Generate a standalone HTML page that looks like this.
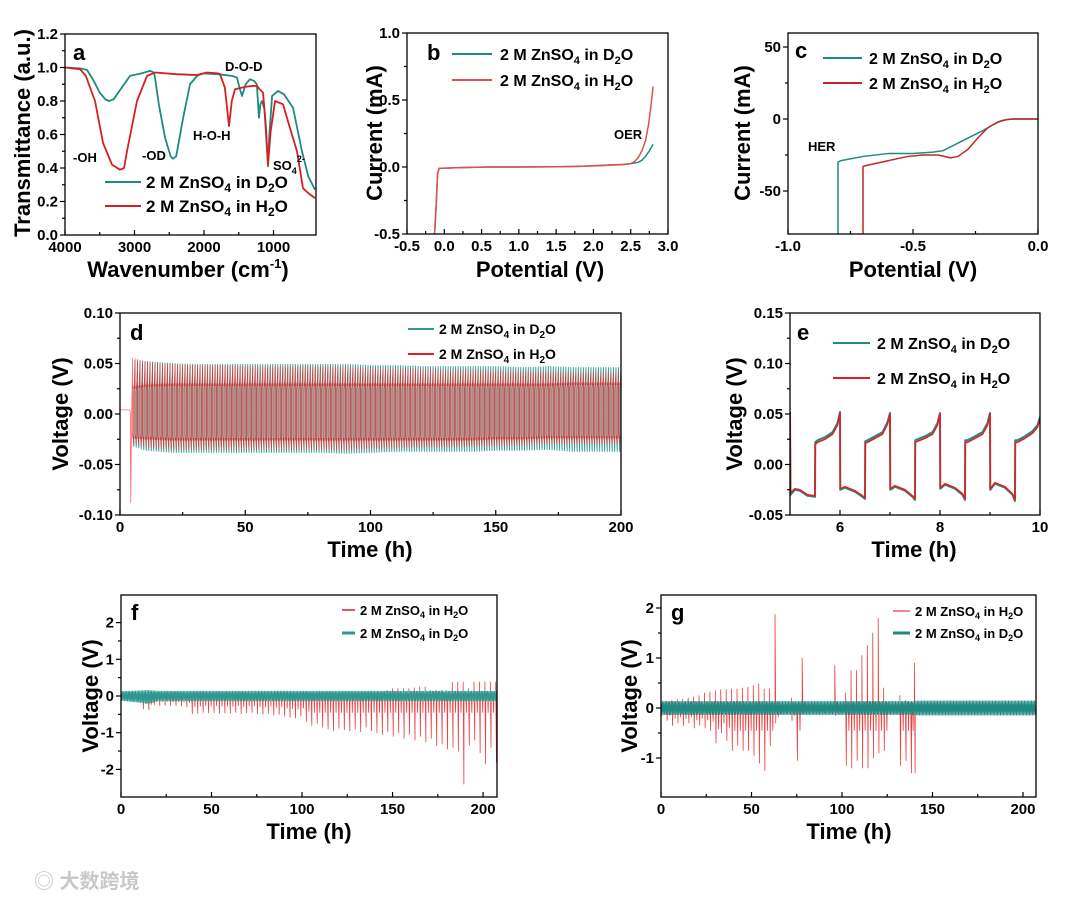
<!DOCTYPE html>
<html><head><meta charset="utf-8">
<style>
html,body{margin:0;padding:0;background:#fff;}
svg{display:block;font-family:"Liberation Sans","Noto Sans CJK SC",sans-serif;font-weight:bold;}
.tl{font-size:15px;fill:#000;}
.at{font-size:22px;fill:#000;}
.lg{font-size:16px;fill:#000;}
.lga{font-size:17px;fill:#000;}
.lgs{font-size:14px;fill:#000;}
.pl{font-size:22px;fill:#000;}
.an{font-size:13px;fill:#000;}
</style></head>
<body>
<svg id="fig" width="1080" height="900" viewBox="0 0 1080 900">
<rect x="0" y="0" width="1080" height="900" fill="#fff"/>
<defs>
<clipPath id="cA"><rect x="65" y="33" width="251" height="201"/></clipPath>
<clipPath id="cB"><rect x="407" y="33" width="261" height="201"/></clipPath>
<clipPath id="cC"><rect x="788" y="33" width="250" height="201"/></clipPath>
<clipPath id="cD"><rect x="120" y="313" width="501" height="202"/></clipPath>
<clipPath id="cE"><rect x="790" y="313" width="250" height="202"/></clipPath>
<clipPath id="cF"><rect x="121" y="595" width="376" height="202"/></clipPath>
<clipPath id="cG"><rect x="661" y="595" width="375" height="202"/></clipPath>
</defs>
<g id="layer-data"></g>
<g id="layer-axes"></g>

<!-- Panel a -->
<text class="pl" x="73" y="60">a</text>
<text class="an" x="225" y="71">D-O-D</text>
<text class="an" x="193" y="140">H-O-H</text>
<text class="an" x="142" y="160">-OD</text>
<text class="an" x="73" y="162">-OH</text>
<text class="an" x="273" y="170">SO<tspan font-size="9" dy="4">4</tspan><tspan font-size="9" dy="-12">2-</tspan></text>
<line x1="105" y1="182" x2="141" y2="182" stroke="#1f8a82" stroke-width="2"/>
<text class="lga" x="146" y="188">2 M ZnSO<tspan font-size="12" dy="4">4</tspan><tspan dy="-4"> in D</tspan><tspan font-size="12" dy="4">2</tspan><tspan dy="-4">O</tspan></text>
<line x1="105" y1="206" x2="141" y2="206" stroke="#d42020" stroke-width="2"/>
<text class="lga" x="146" y="212">2 M ZnSO<tspan font-size="12" dy="4">4</tspan><tspan dy="-4"> in H</tspan><tspan font-size="12" dy="4">2</tspan><tspan dy="-4">O</tspan></text>
<text class="at" transform="translate(30,133) rotate(-90)" text-anchor="middle">Transmittance (a.u.)</text>
<text class="at" x="188" y="277" text-anchor="middle">Wavenumber (cm<tspan font-size="13" dy="-9">-1</tspan><tspan dy="9">)</tspan></text>

<!-- Panel b -->
<text class="pl" x="427" y="60">b</text>
<text class="an" x="614" y="139">OER</text>
<line x1="452" y1="54" x2="492" y2="54" stroke="#1f8a82" stroke-width="2"/>
<text class="lg" x="500" y="60">2 M ZnSO<tspan font-size="11" dy="4">4</tspan><tspan dy="-4"> in D</tspan><tspan font-size="11" dy="4">2</tspan><tspan dy="-4">O</tspan></text>
<line x1="452" y1="80" x2="492" y2="80" stroke="#e05050" stroke-width="2"/>
<text class="lg" x="500" y="86">2 M ZnSO<tspan font-size="11" dy="4">4</tspan><tspan dy="-4"> in H</tspan><tspan font-size="11" dy="4">2</tspan><tspan dy="-4">O</tspan></text>
<text class="at" transform="translate(382,133) rotate(-90)" text-anchor="middle">Current (mA)</text>
<text class="at" x="540" y="277" text-anchor="middle">Potential (V)</text>

<!-- Panel c -->
<text class="pl" x="795" y="58">c</text>
<text class="an" x="808" y="151">HER</text>
<line x1="823" y1="58" x2="862" y2="58" stroke="#1f8a82" stroke-width="2"/>
<text class="lg" x="869" y="64">2 M ZnSO<tspan font-size="11" dy="4">4</tspan><tspan dy="-4"> in D</tspan><tspan font-size="11" dy="4">2</tspan><tspan dy="-4">O</tspan></text>
<line x1="823" y1="83" x2="862" y2="83" stroke="#c02828" stroke-width="2"/>
<text class="lg" x="869" y="89">2 M ZnSO<tspan font-size="11" dy="4">4</tspan><tspan dy="-4"> in H</tspan><tspan font-size="11" dy="4">2</tspan><tspan dy="-4">O</tspan></text>
<text class="at" transform="translate(750,133) rotate(-90)" text-anchor="middle">Current (mA)</text>
<text class="at" x="913" y="277" text-anchor="middle">Potential (V)</text>

<!-- Panel d -->
<text class="pl" x="130" y="340">d</text>
<line x1="408" y1="329" x2="434" y2="329" stroke="#2a9a92" stroke-width="2"/>
<text class="lgs" x="439" y="334">2 M ZnSO<tspan font-size="10" dy="4">4</tspan><tspan dy="-4"> in D</tspan><tspan font-size="10" dy="4">2</tspan><tspan dy="-4">O</tspan></text>
<line x1="408" y1="354" x2="434" y2="354" stroke="#e02020" stroke-width="2"/>
<text class="lgs" x="439" y="359">2 M ZnSO<tspan font-size="10" dy="4">4</tspan><tspan dy="-4"> in H</tspan><tspan font-size="10" dy="4">2</tspan><tspan dy="-4">O</tspan></text>
<text class="at" transform="translate(68,414) rotate(-90)" text-anchor="middle">Voltage (V)</text>
<text class="at" x="370" y="557" text-anchor="middle">Time (h)</text>

<!-- Panel e -->
<text class="pl" x="797" y="340">e</text>
<line x1="833" y1="343" x2="870" y2="343" stroke="#1f8a82" stroke-width="2"/>
<text class="lg" x="877" y="349">2 M ZnSO<tspan font-size="11" dy="4">4</tspan><tspan dy="-4"> in D</tspan><tspan font-size="11" dy="4">2</tspan><tspan dy="-4">O</tspan></text>
<line x1="833" y1="378" x2="870" y2="378" stroke="#e02020" stroke-width="2"/>
<text class="lg" x="877" y="384">2 M ZnSO<tspan font-size="11" dy="4">4</tspan><tspan dy="-4"> in H</tspan><tspan font-size="11" dy="4">2</tspan><tspan dy="-4">O</tspan></text>
<text class="at" transform="translate(742,414) rotate(-90)" text-anchor="middle">Voltage (V)</text>
<text class="at" x="914" y="557" text-anchor="middle">Time (h)</text>

<!-- Panel f -->
<text class="pl" x="131" y="620">f</text>
<line x1="342" y1="610" x2="355" y2="610" stroke="#e02020" stroke-width="1.5"/>
<text class="an" x="360" y="615">2 M ZnSO<tspan font-size="9" dy="3">4</tspan><tspan dy="-3"> in H</tspan><tspan font-size="9" dy="3">2</tspan><tspan dy="-3">O</tspan></text>
<line x1="342" y1="633" x2="355" y2="633" stroke="#2a9a92" stroke-width="3"/>
<text class="an" x="360" y="638">2 M ZnSO<tspan font-size="9" dy="3">4</tspan><tspan dy="-3"> in D</tspan><tspan font-size="9" dy="3">2</tspan><tspan dy="-3">O</tspan></text>
<text class="at" transform="translate(98,696) rotate(-90)" text-anchor="middle">Voltage (V)</text>
<text class="at" x="309" y="839" text-anchor="middle">Time (h)</text>

<!-- Panel g -->
<text class="pl" x="671" y="620">g</text>
<line x1="893" y1="611" x2="910" y2="611" stroke="#ee6060" stroke-width="1.5"/>
<text class="an" x="915" y="616">2 M ZnSO<tspan font-size="9" dy="3">4</tspan><tspan dy="-3"> in H</tspan><tspan font-size="9" dy="3">2</tspan><tspan dy="-3">O</tspan></text>
<line x1="893" y1="633" x2="910" y2="633" stroke="#1f8a82" stroke-width="3"/>
<text class="an" x="915" y="638">2 M ZnSO<tspan font-size="9" dy="3">4</tspan><tspan dy="-3"> in D</tspan><tspan font-size="9" dy="3">2</tspan><tspan dy="-3">O</tspan></text>
<text class="at" transform="translate(637,696) rotate(-90)" text-anchor="middle">Voltage (V)</text>
<text class="at" x="849" y="839" text-anchor="middle">Time (h)</text>

<text x="34" y="888" font-size="20" fill="#c8c8c8">◎ 大数跨境</text>
</svg>
<script>
// ---------- DATA ----------
// a: FTIR
const aWnTeal = [4000,3780,3683,3600,3500,3420,3367,3300,3200,3065,2900,2777,2720,2705,2650,2560,2480,2446,2400,2300,2201,2100,2014,1800,1600,1525,1490,1453,1400,1338,1280,1240,1209,1190,1165,1130,1100,1079,1060,1020,935,850,719,650,590,500,403];
const aTeal   = [1.0,0.995,0.985,0.93,0.85,0.81,0.80,0.81,0.87,0.95,0.965,0.98,0.97,0.94,0.78,0.58,0.47,0.455,0.47,0.70,0.90,0.95,0.965,0.96,0.95,0.94,0.88,0.83,0.90,0.93,0.92,0.90,0.70,0.78,0.80,0.75,0.55,0.41,0.60,0.83,0.86,0.84,0.76,0.62,0.50,0.35,0.27];
const aWnRed  = [4000,3784,3700,3568,3453,3324,3209,3150,3108,2964,2820,2705,2400,2101,1957,1800,1770,1700,1640,1600,1554,1400,1300,1237,1200,1151,1110,1079,1040,978,863,750,662,576,500,403];
const aRed    = [1.0,0.99,0.95,0.80,0.55,0.42,0.39,0.40,0.50,0.80,0.95,0.97,0.96,0.955,0.97,0.965,0.96,0.88,0.65,0.80,0.87,0.885,0.89,0.89,0.87,0.85,0.65,0.42,0.62,0.80,0.78,0.62,0.50,0.28,0.25,0.22];
// b: LSV
const bVTeal = [-0.13,-0.11,-0.09,-0.07,0.2,0.6,1.0,1.5,1.8,2.1,2.4,2.5,2.6,2.65,2.7,2.75,2.8];
const bITeal = [-0.5,-0.3,-0.05,-0.01,-0.005,0.0,0.0,0.002,0.005,0.012,0.02,0.025,0.035,0.05,0.08,0.12,0.17];
const bVRed  = [-0.13,-0.11,-0.09,-0.07,0.2,0.6,1.0,1.5,1.8,2.1,2.4,2.5,2.55,2.6,2.65,2.7,2.74,2.77,2.8];
const bIRed  = [-0.5,-0.3,-0.05,-0.01,-0.005,0.0,0.0,0.002,0.005,0.01,0.018,0.025,0.04,0.07,0.12,0.2,0.32,0.45,0.6];
// c: HER
const cVTeal = [-0.80,-0.80,-0.79,-0.70,-0.60,-0.50,-0.42,-0.38,-0.30,-0.22,-0.18,-0.15,-0.12,-0.10,0.0];
const cITeal = [-85,-30,-29,-26,-24,-24,-23,-22,-15,-8,-4,-1.5,-0.3,0,0];
const cVRed  = [-0.70,-0.70,-0.68,-0.60,-0.52,-0.46,-0.40,-0.35,-0.32,-0.28,-0.24,-0.20,-0.16,-0.13,-0.10,0.0];
const cIRed  = [-85,-33,-32,-29,-26,-25,-25,-27,-26,-21,-13,-6,-2,-0.5,0,0];
// d: long-term cycling envelopes
const dTimes   = [5,10,20,30,40,50,60,70,80,90,100,110,120,130,140,150,160,170,180,190,200];
const dTealMax = [0.053,0.052,0.050,0.049,0.049,0.049,0.049,0.049,0.049,0.049,0.048,0.048,0.047,0.047,0.047,0.047,0.046,0.047,0.046,0.046,0.046];
const dTealMin = [-0.032,-0.036,-0.038,-0.038,-0.038,-0.038,-0.038,-0.038,-0.038,-0.039,-0.038,-0.037,-0.037,-0.037,-0.037,-0.036,-0.036,-0.035,-0.037,-0.037,-0.037];
const dRedMax  = [0.055,0.051,0.049,0.048,0.048,0.047,0.047,0.047,0.047,0.046,0.045,0.045,0.044,0.043,0.043,0.043,0.042,0.042,0.041,0.041,0.041];
const dRedMin  = [-0.030,-0.033,-0.035,-0.035,-0.035,-0.035,-0.035,-0.035,-0.035,-0.036,-0.034,-0.034,-0.033,-0.033,-0.032,-0.032,-0.031,-0.030,-0.030,-0.030,-0.030];
const dPlateauHi = [0.022,0.024,0.025,0.025,0.025,0.025,0.025,0.025,0.025,0.025,0.025,0.025,0.025,0.025,0.025,0.025,0.025,0.025,0.026,0.026,0.026];
const dPlateauLo = [-0.020,-0.021,-0.022,-0.022,-0.022,-0.022,-0.022,-0.022,-0.022,-0.022,-0.022,-0.022,-0.022,-0.022,-0.022,-0.021,-0.021,-0.020,-0.020,-0.020,-0.020];
const dRestT = [0,3.9,4.1,4.3,4.5,5];
const dRestV = [0.004,0.004,0.003,-0.088,-0.03,0.055];
// e: zoomed cycles
const eTime = [5.00,5.01,5.1,5.2,5.35,5.5,5.505,5.55,5.7,5.85,5.95,6.0,6.005,6.1,6.3,6.45,6.5,6.505,6.55,6.7,6.85,6.95,7.0,7.005,7.1,7.3,7.45,7.5,7.505,7.55,7.7,7.85,7.95,8.0,8.005,8.1,8.3,8.45,8.5,8.505,8.55,8.7,8.85,8.95,9.0,9.005,9.1,9.3,9.45,9.5,9.505,9.55,9.7,9.85,9.95,10.0];
const eRed  = [0.050,-0.028,-0.024,-0.025,-0.030,-0.031,0.020,0.022,0.025,0.030,0.039,0.051,-0.024,-0.022,-0.026,-0.031,-0.033,0.021,0.022,0.026,0.030,0.040,0.050,-0.024,-0.021,-0.025,-0.031,-0.034,0.022,0.023,0.026,0.030,0.039,0.050,-0.023,-0.019,-0.023,-0.029,-0.034,0.022,0.022,0.026,0.030,0.039,0.050,-0.024,-0.018,-0.022,-0.029,-0.035,0.022,0.022,0.026,0.031,0.037,0.045];
const eTeal = [0.052,-0.030,-0.025,-0.026,-0.031,-0.032,0.022,0.024,0.027,0.032,0.041,0.052,-0.025,-0.023,-0.027,-0.032,-0.034,0.023,0.024,0.028,0.032,0.042,0.051,-0.025,-0.022,-0.026,-0.032,-0.035,0.024,0.025,0.028,0.032,0.041,0.051,-0.024,-0.020,-0.024,-0.030,-0.035,0.024,0.024,0.028,0.032,0.041,0.051,-0.025,-0.019,-0.023,-0.030,-0.036,0.024,0.024,0.028,0.033,0.039,0.047];
// f
const fTimes  = [0,3,6,9,12,15,18,21,24,27,30,33,36,39,42,45,48,51,54,57,60,63,66,69,72,75,78,81,84,87,90,93,96,99,102,105,108,111,114,117,120,123,126,129,132,135,138,141,144,147,150,153,156,159,162,165,168,171,174,177,180,183,186,189,192,195,198,201,204,207];
const fRedMin = [-0.1,-0.1,-0.12,-0.15,-0.35,-0.38,-0.25,-0.26,-0.25,-0.27,-0.26,-0.28,-0.30,-0.48,-0.47,-0.45,-0.46,-0.45,-0.47,-0.46,-0.47,-0.45,-0.48,-0.46,-0.45,-0.48,-0.50,-0.47,-0.52,-0.50,-0.55,-0.58,-0.60,-0.55,-0.70,-0.80,-0.75,-0.85,-0.90,-0.95,-0.88,-0.92,-0.95,-0.90,-0.97,-0.85,-0.95,-1.00,-1.05,-0.98,-1.10,-1.00,-1.15,-1.05,-1.20,-1.10,-1.25,-1.15,-1.35,-1.30,-1.45,-1.40,-1.50,-2.40,-1.35,-1.20,-1.55,-1.85,-1.40,-1.80];
const fRedMax = [0.1,0.1,0.1,0.1,0.1,0.1,0.1,0.1,0.1,0.1,0.1,0.1,0.1,0.1,0.1,0.1,0.1,0.1,0.1,0.1,0.1,0.1,0.1,0.1,0.1,0.1,0.1,0.1,0.1,0.1,0.1,0.1,0.1,0.1,0.1,0.1,0.1,0.1,0.1,0.1,0.1,0.1,0.1,0.1,0.1,0.1,0.1,0.1,0.12,0.15,0.2,0.2,0.2,0.2,0.22,0.25,0.25,0.15,0.15,0.15,0.15,0.38,0.38,0.38,0.2,0.38,0.38,0.38,0.38,0.38];
const fTealT   = [0,15,20,207];
const fTealMax = [0.12,0.15,0.13,0.13];
const fTealMin = [-0.12,-0.2,-0.13,-0.13];
// g
const gTimes  = [0,3,6,9,12,15,18,21,24,27,30,33,36,39,42,45,48,51,54,57,60,63,66,69,72,75,78,81,84,87,90,93,96,99,102,105,108,111,114,117,120,123,126,129,132,135,138,140];
const gRedMax = [0.1,0.12,0.15,0.17,0.18,0.2,0.22,0.25,0.3,0.32,0.35,0.37,0.37,0.38,0.38,0.40,0.42,0.45,0.48,0.38,0.38,1.87,0.05,0.05,0.2,0.1,1.0,0.05,0.05,0.05,0.05,0.05,0.85,0.05,0.3,0.75,0.75,1.05,1.25,1.5,1.8,0.4,0.05,0.05,0.25,0.15,0.1,0.9];
const gRedMin = [-0.15,-0.25,-0.35,-0.3,-0.35,-0.3,-0.4,-0.35,-0.4,-0.45,-0.7,-0.5,-0.65,-0.85,-0.75,-0.85,-0.85,-0.95,-1.1,-1.25,-0.75,-0.3,-0.1,-0.1,-0.25,-1.05,-0.1,-0.1,-0.1,-0.1,-0.1,-0.1,-0.15,-0.1,-1.15,-1.2,-1.05,-1.2,-1.2,-1.0,-0.9,-0.85,-0.1,-0.1,-1.15,-1.05,-1.3,-1.3];
const gTealT   = [0,140,141,207];
const gTealMax = [0.13,0.13,0.14,0.14];
const gTealMin = [-0.13,-0.13,-0.14,-0.14];
// ticks
const aXTicks=[4000,3000,2000,1000], aXLabels=["4000","3000","2000","1000"];
const aYTicks=[0,0.2,0.4,0.6,0.8,1.0,1.2], aYLabels=["0.0","0.2","0.4","0.6","0.8","1.0","1.2"];
const bXTicks=[-0.5,0,0.5,1,1.5,2,2.5,3], bXLabels=["-0.5","0.0","0.5","1.0","1.5","2.0","2.5","3.0"];
const bYTicks=[-0.5,0,0.5,1], bYLabels=["-0.5","0.0","0.5","1.0"];
const cXTicks=[-1,-0.5,0], cXLabels=["-1.0","-0.5","0.0"];
const cYTicks=[-50,0,50], cYLabels=["-50","0","50"];
const dXTicks=[0,50,100,150,200], dXLabels=["0","50","100","150","200"];
const dYTicks=[-0.1,-0.05,0,0.05,0.1], dYLabels=["-0.10","-0.05","0.00","0.05","0.10"];
const eXTicks=[6,8,10], eXLabels=["6","8","10"];
const eYTicks=[-0.05,0,0.05,0.1,0.15], eYLabels=["-0.05","0.00","0.05","0.10","0.15"];
const fXTicks=[0,50,100,150,200], fXLabels=["0","50","100","150","200"];
const fYTicks=[-2,-1,0,1,2], fYLabels=["-2","-1","0","1","2"];
const gYTicks=[-1,0,1,2], gYLabels=["-1","0","1","2"];

// ---------- DRAW ----------
const NS="http://www.w3.org/2000/svg";
const dataLayer=document.getElementById('layer-data');
const axesLayer=document.getElementById('layer-axes');
function sc(d0,d1,p0,p1){return v=>p0+(v-d0)/(d1-d0)*(p1-p0);}
function interp(ts,vs,t){if(t<=ts[0])return vs[0];for(let i=1;i<ts.length;i++){if(t<=ts[i]){const f=(t-ts[i-1])/(ts[i]-ts[i-1]);return vs[i-1]+f*(vs[i]-vs[i-1]);}}return vs[vs.length-1];}
function poly(pts,color,w,clip,op){
  const p=document.createElementNS(NS,'polyline');
  p.setAttribute('points',pts.map(q=>q[0].toFixed(2)+','+q[1].toFixed(2)).join(' '));
  p.setAttribute('fill','none');p.setAttribute('stroke',color);p.setAttribute('stroke-width',w);
  p.setAttribute('stroke-linejoin','round');
  if(op)p.setAttribute('stroke-opacity',op);
  p.setAttribute('clip-path','url(#'+clip+')');
  dataLayer.appendChild(p);return p;
}
function panel(P){
  const g=document.createElementNS(NS,'g');
  
  
  const r=document.createElementNS(NS,'rect');
  r.setAttribute('x',P.x0);r.setAttribute('y',P.y1);r.setAttribute('width',P.x1-P.x0);r.setAttribute('height',P.y0-P.y1);
  r.setAttribute('fill','none');r.setAttribute('stroke','#000');r.setAttribute('stroke-width','1.3');
  
  
  g.appendChild(r);
  function tick(x1,y1,x2,y2){const l=document.createElementNS(NS,'line');l.setAttribute('x1',x1);l.setAttribute('y1',y1);l.setAttribute('x2',x2);l.setAttribute('y2',y2);l.setAttribute('stroke','#000');l.setAttribute('stroke-width','1.2');g.appendChild(l);}
  function lab(x,y,s,anchor,name){const t=document.createElementNS(NS,'text');t.setAttribute('x',x);t.setAttribute('y',y);t.setAttribute('class','tl');t.setAttribute('text-anchor',anchor);t.textContent=s;
    
    
    g.appendChild(t);}
  P.xt.forEach((v,i)=>{const x=P.sx(v);tick(x,P.y0,x,P.y0-5);lab(x,P.y0+17,P.xl[i],'middle',P.name+'-x-tick-label');});
  P.xt.slice(0,-1).forEach((v,i)=>{const m=P.sx((v+P.xt[i+1])/2);tick(m,P.y0,m,P.y0-3);});
  P.yt.forEach((v,i)=>{const y=P.sy(v);tick(P.x0,y,P.x0-5,y);lab(P.x0-7,y+5,P.yl[i],'end',P.name+'-y-tick-label');});
  P.yt.slice(0,-1).forEach((v,i)=>{const m=P.sy((v+P.yt[i+1])/2);tick(P.x0,m,P.x0-3,m);});
  axesLayer.appendChild(g);
}
// Panel A
{const sx=sc(4000,1000,65,273.5),sy=sc(0,1.2,235,34);
 panel({name:'panel-a',x0:65,x1:316,y0:235,y1:34,sx,sy,xt:aXTicks,xl:aXLabels,yt:aYTicks,yl:aYLabels});
 let p=poly(aWnTeal.map((w,i)=>[sx(w),sy(aTeal[i])]),'#1f8a82',1.8,'cA');
 
 
 p=poly(aWnRed.map((w,i)=>[sx(w),sy(aRed[i])]),'#d42020',1.8,'cA');
 
 }
// Panel B
{const sx=sc(-0.5,3.0,407,668),sy=sc(-0.5,1.0,234,33);
 panel({name:'panel-b',x0:407,x1:668,y0:234,y1:33,sx,sy,xt:bXTicks,xl:bXLabels,yt:bYTicks,yl:bYLabels});
 let p=poly(bVTeal.map((v,i)=>[sx(v),sy(bITeal[i])]),'#1f8a82',1.5,'cB');
 
 
 p=poly(bVRed.map((v,i)=>[sx(v),sy(bIRed[i])]),'#e05050',1.5,'cB');
 
 }
// Panel C
{const sx=sc(-1,0,788,1038),sy=sc(0,50,119,47);
 panel({name:'panel-c',x0:788,x1:1038,y0:234,y1:33,sx,sy,xt:cXTicks,xl:cXLabels,yt:cYTicks,yl:cYLabels});
 let p=poly(cVTeal.map((v,i)=>[sx(v),sy(cITeal[i])]),'#1f8a82',1.5,'cC');
 
 
 p=poly(cVRed.map((v,i)=>[sx(v),sy(cIRed[i])]),'#c02828',1.5,'cC');
 
 }
function cyclePts(sx,sy,t0,t1,maxA,minA,hiA,loA,ts){
  const pts=[];
  for(let t=t0;t<t1;t+=1){
    const mx=interp(ts,maxA,t),mn=interp(ts,minA,t),hi=interp(ts,hiA,t),lo=interp(ts,loA,t);
    pts.push([sx(t),sy(lo)]);pts.push([sx(t+0.3),sy(lo+(mn-lo)*0.35)]);pts.push([sx(t+0.5),sy(mn)]);
    pts.push([sx(t+0.5),sy(hi)]);pts.push([sx(t+0.8),sy(hi+(mx-hi)*0.35)]);pts.push([sx(t+1),sy(mx)]);
  }
  return pts;
}
// Panel D
{const sx=sc(0,200,120,621),sy=sc(-0.1,0.1,515,313);
 panel({name:'panel-d',x0:120,x1:621,y0:515,y1:313,sx,sy,xt:dXTicks,xl:dXLabels,yt:dYTicks,yl:dYLabels});
 let p=poly(cyclePts(sx,sy,5,200,dTealMax,dTealMin,dPlateauHi,dPlateauLo,dTimes),'#2a9a92',0.9,'cD');
 
 
 const rp=dRestT.map((t,i)=>[sx(t),sy(dRestV[i])]).concat(cyclePts(sx,sy,5,200,dRedMax,dRedMin,dPlateauHi,dPlateauLo,dTimes));
 p=poly(rp,'#ff2a2a',0.7,'cD',0.8);
 
 
 [[dPlateauHi,0.004],[dPlateauLo,-0.003]].forEach(([arr,off])=>{
   const q=poly(dTimes.map((t,i)=>[sx(t),sy(arr[i]+off)]),'#d02020',2.5,'cD',0.35);
   
   
 });}
// Panel E
{const sx=sc(5,10,790,1040),sy=sc(-0.05,0.15,515,313);
 panel({name:'panel-e',x0:790,x1:1040,y0:515,y1:313,sx,sy,xt:eXTicks,xl:eXLabels,yt:eYTicks,yl:eYLabels});
 let p=poly(eTime.map((t,i)=>[sx(t),sy(eTeal[i])]),'#1f8a82',2,'cE');
 
 
 p=poly(eTime.map((t,i)=>[sx(t),sy(eRed[i])]),'#e02020',1.6,'cE');
 
 }
function spikes(sx,sy,ts,mx,mn){
  const pts=[];
  ts.forEach((t,i)=>{pts.push([sx(t),sy(0)]);pts.push([sx(t),sy(mx[i])]);pts.push([sx(t+0.4),sy(mn[i])]);pts.push([sx(t+0.5),sy(0)]);
    if(i<ts.length-1){const tm=(t+ts[i+1])/2;pts.push([sx(tm),sy(Math.min(mx[i],0.12))]);pts.push([sx(tm+0.3),sy(Math.max(mn[i]*0.6,-0.45))]);pts.push([sx(tm+0.5),sy(0)]);}});
  return pts;
}
function tealBand(sx,sy,t0,t1,ts,mx,mn){
  const pts=[];for(let t=t0;t<t1;t+=0.8){pts.push([sx(t),sy(interp(ts,mx,t))]);pts.push([sx(t+0.4),sy(interp(ts,mn,t))]);}return pts;
}
// Panel F
{const sx=sc(0,207.7,121,497),sy=sc(0,1,696,659.3);
 panel({name:'panel-f',x0:121,x1:497,y0:797,y1:595,sx,sy,xt:fXTicks,xl:fXLabels,yt:fYTicks,yl:fYLabels});
 let p=poly(spikes(sx,sy,fTimes,fRedMax,fRedMin),'#e82020',0.8,'cF',0.85);
 
 
 p=poly(tealBand(sx,sy,0,207.7,fTealT,fTealMax,fTealMin),'#2a9a92',1,'cF');
 
 }
// Panel G
{const sx=sc(0,207.2,661,1036),sy=sc(0,1,708,658);
 panel({name:'panel-g',x0:661,x1:1036,y0:797,y1:595,sx,sy,xt:fXTicks,xl:fXLabels,yt:gYTicks,yl:gYLabels});
 let p=poly(spikes(sx,sy,gTimes,gRedMax,gRedMin),'#ee1a1a',0.8,'cG',0.85);
 
 
 p=poly(tealBand(sx,sy,0,207.2,gTealT,gTealMax,gTealMin),'#1f8a82',1,'cG');
 
 }
</script>
</body></html>
